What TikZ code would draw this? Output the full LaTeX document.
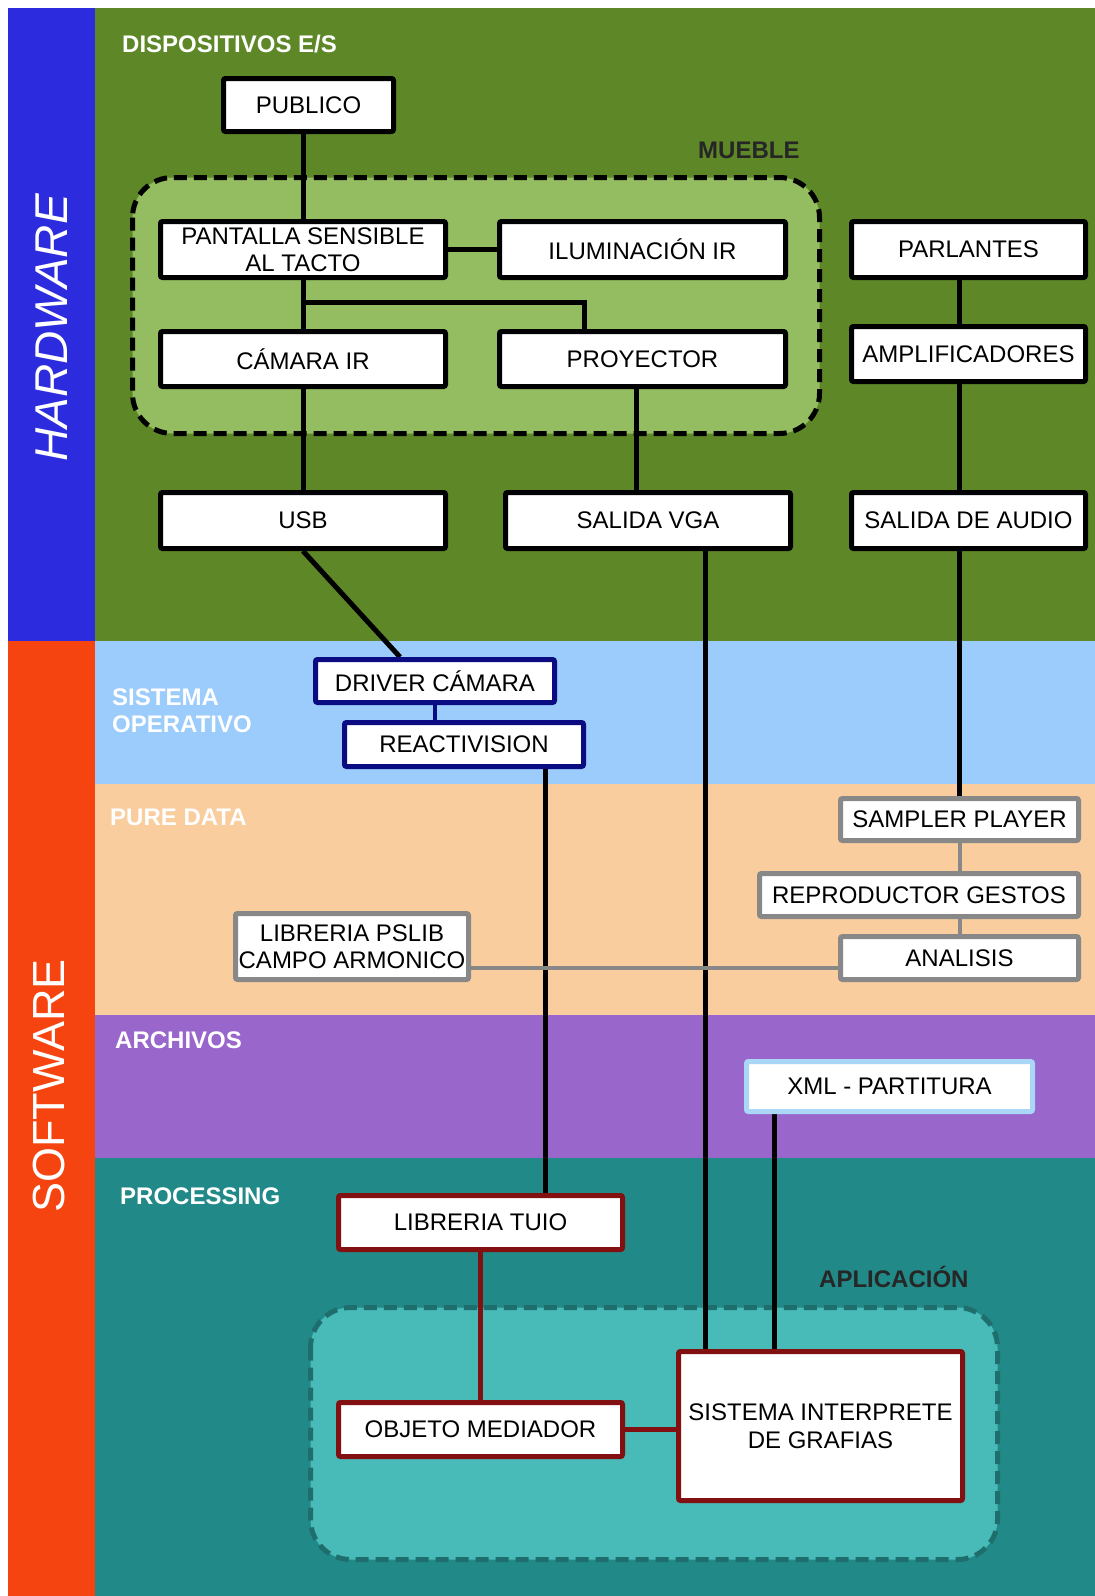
\documentclass[tikz,border=0pt]{standalone}
\usepackage{fontspec}
\setmainfont{Liberation Sans}
\usetikzlibrary{calc}

\definecolor{hwblue}{RGB}{44,44,222}
\definecolor{swred}{RGB}{245,68,16}
\definecolor{hwgreen}{RGB}{94,135,40}
\definecolor{mueblefill}{RGB}{148,188,96}
\definecolor{osband}{RGB}{155,204,252}
\definecolor{pdband}{RGB}{249,205,157}
\definecolor{arband}{RGB}{153,102,204}
\definecolor{prband}{RGB}{33,138,136}
\definecolor{appfill}{RGB}{72,186,184}
\definecolor{appdash}{RGB}{30,110,110}
\definecolor{osnavy}{RGB}{12,12,130}
\definecolor{pdgray}{RGB}{136,136,136}
\definecolor{xmlblue}{RGB}{170,214,248}
\definecolor{prred}{RGB}{130,16,16}

\pgfdeclarelayer{bands}
\pgfdeclarelayer{wires}
\pgfsetlayers{bands,wires,main}

\begin{document}
\begin{tikzpicture}[
  x=1pt, y=-1pt,
  font=\fontsize{24}{27.5}\selectfont,
  hwbox/.style={
    rectangle, rounded corners=2pt,
    draw=black, fill=white, line width=5pt,
    align=center, inner sep=0pt
  },
  osbox/.style={hwbox, draw=osnavy},
  pdbox/.style={hwbox, draw=pdgray},
  xmlbox/.style={hwbox, draw=xmlblue},
  prbox/.style={hwbox, draw=prred},
  sect/.style={
    anchor=west, inner sep=0pt, align=left, text=white,
    font=\fontsize{24}{27}\selectfont\bfseries
  },
  side/.style={rotate=90, text=white, inner sep=0pt},
  grpzone/.style={rounded corners=40pt, line width=5pt,
    dash pattern=on 13pt off 7pt},
  wire/.style={line width=5pt, black},
  owire/.style={line width=4pt, osnavy},
  gwire/.style={line width=4pt, pdgray},
  rwire/.style={line width=5pt, prred}
]
\useasboundingbox (0,0) rectangle (1095,1596);

%% ── Bands ───────────────────────────────────────────────────────────
\begin{pgfonlayer}{bands}
\fill[hwblue]  (8,8)      rectangle (94.6,641);
\fill[swred]   (8,641)    rectangle (94.6,1596);
\fill[hwgreen] (94.6,8)   rectangle (1095,641);
\fill[osband]  (94.6,641) rectangle (1095,784);
\fill[pdband]  (94.6,784) rectangle (1095,1015);
\fill[arband]  (94.6,1015) rectangle (1095,1158);
\fill[prband]  (94.6,1158) rectangle (1095,1596);

% mueble / aplicacion
\draw[grpzone, draw=black, fill=mueblefill] (132.5,177.5) rectangle (819.5,433.5);
\draw[grpzone, draw=appdash, fill=appfill] (310.5,1307.5) rectangle (997.5,1559.5);
\end{pgfonlayer}

\node[side, font=\fontsize{46}{46}\selectfont\itshape] (hw) at (52,328) {HARDWARE};
\node[side, font=\fontsize{45}{45}\selectfont] (sw) at (49,1086) {SOFTWARE};

%% ── Section labels ──────────────────────────────────────────────────
\node[sect] (ldisp) at (122,44) {DISPOSITIVOS E/S};
\node[sect, text=black!85] (lmue) at (698,150) {MUEBLE};
\node[sect] (lso) at (112,710.5) {SISTEMA\\OPERATIVO};
\node[sect] (lpd) at (110,817) {PURE DATA};
\node[sect] (larc) at (115,1040) {ARCHIVOS};
\node[sect] (lproc) at (120,1196) {PROCESSING};
\node[sect, text=black!85] (lapp) at (819,1277) {APLICACIÓN};

%% ── Hardware ────────────────────────────────────────────────────────
\node[hwbox, minimum width=170, minimum height=53] (pub) at (308.5,105) {PUBLICO};
\node[hwbox, minimum width=285, minimum height=56] (pant) at (303,249.5) {PANTALLA SENSIBLE\\AL TACTO};
\node[hwbox, minimum width=286, minimum height=56] (ilum) at (642.5,249.5) {ILUMINACIÓN IR};
\node[hwbox, minimum width=285, minimum height=55] (cam) at (303,359) {CÁMARA IR};
\node[hwbox, minimum width=286, minimum height=55] (proy) at (642.5,359) {PROYECTOR};
\node[hwbox, minimum width=234, minimum height=56] (parl) at (968.5,249.5) {PARLANTES};
\node[hwbox, minimum width=234, minimum height=55] (amp) at (968.5,354) {AMPLIFICADORES};
\node[hwbox, minimum width=285, minimum height=56] (usb) at (303,520.5) {USB};
\node[hwbox, minimum width=285, minimum height=56] (vga) at (648,520.5) {SALIDA VGA};
\node[hwbox, minimum width=234, minimum height=56] (audio) at (968.5,520.5) {SALIDA DE AUDIO};

%% ── Sistema operativo ───────────────────────────────────────────────
\node[osbox, minimum width=239, minimum height=43] (drv) at (435,681) {DRIVER CÁMARA};
\node[osbox, minimum width=239, minimum height=44] (reac) at (464,744.5) {REACTIVISION};

%% ── Pure Data ───────────────────────────────────────────────────────
\node[pdbox, minimum width=238, minimum height=42] (sampler) at (959.5,819.5) {SAMPLER PLAYER};
\node[pdbox, minimum width=319, minimum height=43] (repro) at (919,895) {REPRODUCTOR GESTOS};
\node[pdbox, minimum width=238, minimum height=43] (ana) at (959.5,958) {ANALISIS};
\node[pdbox, minimum width=233, minimum height=66] (pslib) at (352,946.5) {LIBRERIA PSLIB\\CAMPO ARMONICO};

%% ── Archivos ────────────────────────────────────────────────────────
\node[xmlbox, minimum width=286, minimum height=50] (xml) at (889.5,1086.5) {XML - PARTITURA};

%% ── Processing ──────────────────────────────────────────────────────
\node[prbox, minimum width=284, minimum height=54] (tuio) at (480.5,1222.5) {LIBRERIA TUIO};
\node[prbox, minimum width=284, minimum height=54] (obj) at (480.5,1429.5) {OBJETO MEDIADOR};
\node[prbox, minimum width=284, minimum height=149] (sis) at (820.5,1426) {SISTEMA INTERPRETE\\DE GRAFIAS};

%% ── Connectors ──────────────────────────────────────────────────────
\begin{pgfonlayer}{wires}
\draw[wire] (pant.north) -- (pant.north |- pub.south);
\draw[wire] (pant.east) -- (ilum.west);
\draw[wire] (pant.south) -- (cam.north);
\coordinate (fork) at ($(pant.south)!0.45!(cam.north)$);
\draw[wire] (fork) -| ([xshift=-58pt]proy.north);
\draw[wire] (cam.south) -- (usb.north);
\draw[wire] ([xshift=-6pt]proy.south) -- ([xshift=-6pt]proy.south |- vga.north);
\draw[wire] ([xshift=-9pt]parl.south) -- ([xshift=-9pt]amp.north);
\draw[wire] ([xshift=-9pt]amp.south) -- ([xshift=-9pt]audio.north);
\draw[wire] ([xshift=-9pt]audio.south) -- (sampler.north);

\draw[wire] (usb.south) -- ([xshift=-35pt]drv.north);
\draw[owire] (drv.south) -- (drv.south |- reac.north);
\draw[wire] ([xshift=81pt]reac.south) -- ([xshift=81pt]reac.south |- tuio.north);
\draw[wire] ([xshift=57pt]vga.south) -- ([xshift=57pt]vga.south |- sis.north);
\draw[wire] ([xshift=-115.5pt]xml.south) -- ([xshift=-115.5pt]xml.south |- sis.north);

\draw[gwire] (sampler.south) -- (sampler.south |- repro.north);
\draw[gwire] (sampler.south |- repro.south) -- (ana.north);
\draw[gwire] ([yshift=-10pt]ana.west) -- ([yshift=-10pt]ana.west -| pslib.east);

\draw[rwire] (tuio.south) -- (obj.north);
\draw[rwire] (obj.east) -- (obj.east -| sis.west);
\end{pgfonlayer}

\end{tikzpicture}
\end{document}
